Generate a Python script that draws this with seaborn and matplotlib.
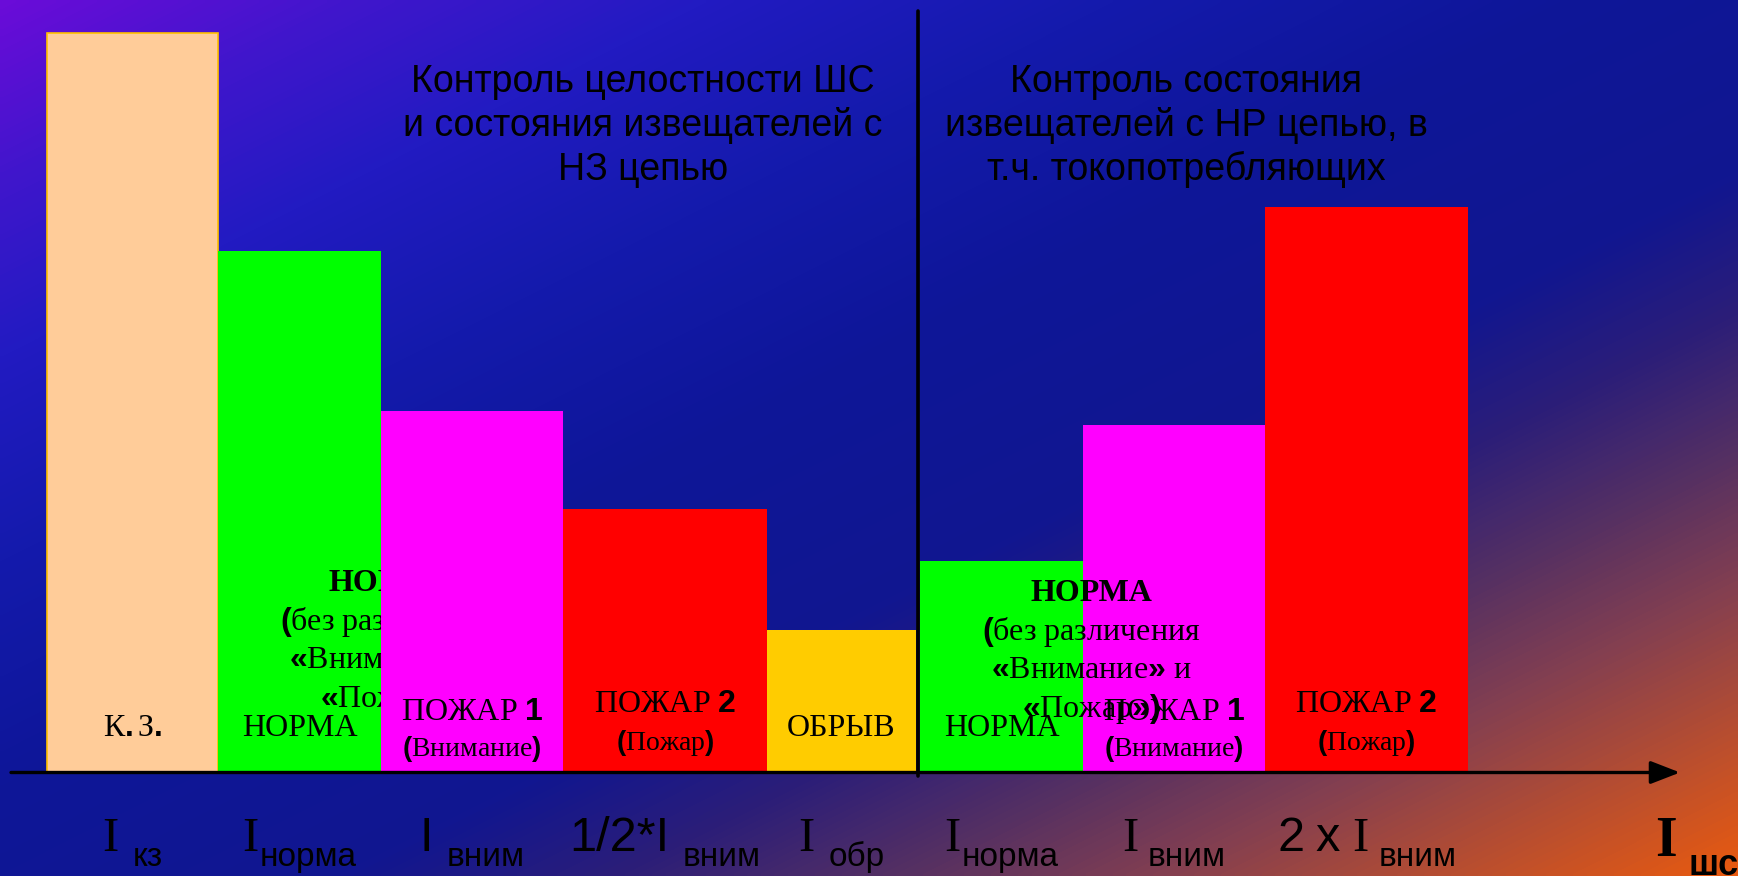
import numpy as np
import matplotlib
matplotlib.use("Agg")
import matplotlib.pyplot as plt
import seaborn as sns
from matplotlib.colors import LinearSegmentedColormap

# ---------------- data ----------------
states = ["К.З.", "НОРМА", "ПОЖАР 1", "ПОЖАР 2", "ОБРЫВ", "НОРМА", "ПОЖАР 1", "ПОЖАР 2"]
loop_current = [74.0, 52.2, 36.2, 26.4, 14.3, 21.2, 34.8, 56.6]
bar_colors = ["#FFCC99", "#00FF00", "#FF00FF", "#FF0000", "#FFCC00",
              "#00FF00", "#FF00FF", "#FF0000"]

state_labels = [r"К$\mathbf{.}$З$\mathbf{.}$", "НОРМА", r"ПОЖАР $\mathbf{1}$",
                r"ПОЖАР $\mathbf{2}$", "ОБРЫВ", "НОРМА", r"ПОЖАР $\mathbf{1}$",
                r"ПОЖАР $\mathbf{2}$"]
state_notes = ["", "", r"$\mathbf{(}$Внимание$\mathbf{)}$", r"$\mathbf{(}$Пожар$\mathbf{)}$",
               "", "", r"$\mathbf{(}$Внимание$\mathbf{)}$", r"$\mathbf{(}$Пожар$\mathbf{)}$"]

current_names = ["I", "I", "I", "1/2*I", "I", "I", "I", r"$\mathsf{2\ x}$ I"]
current_subs = ["кз", "норма", "вним", "вним", "обр", "норма", "вним", "вним"]
current_fonts = ["Liberation Serif", "Liberation Serif", "Liberation Sans", "Liberation Sans",
                 "Liberation Serif", "Liberation Serif", "Liberation Serif", "Liberation Serif"]

left_title = ["Контроль целостности ШС", "и состояния извещателей с", "НЗ цепью"]
right_title = ["Контроль состояния", "извещателей с НР цепью, в", "т.ч. токопотребляющих"]
norm_note = ["НОРМА", r"$\mathbf{(}$без различения", r"$\mathbf{«}$Внимание$\mathbf{»}$ и",
             r"$\mathbf{«}$Пожар$\mathbf{»)}$"]

# ---------------- layout ----------------
bar_widths = [171, 163, 182, 204, 149, 163, 182, 203]
first_left = 36
group_gap = 4
W, H, DPI = 1738, 876, 100

sns.set_theme(style="white")
plt.rcParams["font.family"] = ["Liberation Serif", "DejaVu Serif"]
plt.rcParams["text.color"] = "black"
plt.rcParams["mathtext.fontset"] = "custom"
plt.rcParams["mathtext.rm"] = "Liberation Serif"
plt.rcParams["mathtext.it"] = "Liberation Serif:italic"
plt.rcParams["mathtext.sf"] = "Liberation Sans"
plt.rcParams["mathtext.bf"] = "Liberation Sans:bold"

fig = plt.figure(figsize=(W / DPI, H / DPI), dpi=DPI)

# diagonal gradient backdrop
bg = fig.add_axes([0, 0, 1, 1])
gx, gy = np.meshgrid(np.linspace(0, 1, 400), np.linspace(0, 1, 200))
grad = (gx + gy) / 2
stops = [(0.0, "#6a0cd8"), (0.1, "#4016cc"), (0.2, "#221bc2"), (0.32, "#141aac"),
         (0.45, "#0e1698"), (0.6, "#111690"), (0.68, "#2c1e78"), (0.76, "#553063"),
         (0.84, "#86404f"), (0.92, "#b84e30"), (1.0, "#e85a10")]
cmap = LinearSegmentedColormap.from_list("slide", stops)
bg.imshow(grad, cmap=cmap, aspect="auto", extent=[0, 1, 0, 1], origin="upper",
          interpolation="bilinear")
bg.set_axis_off()

# main axes: baseline of the current axis at the bottom edge
ax = fig.add_axes([11 / W, 103.5 / H, 1669 / W, 772.5 / H])
ax.patch.set_alpha(0)
ax.set_xlim(0, 1669)
ax.set_ylim(0, 77.25)
ax.set_axis_off()

lefts = []
pos = first_left
for i, w in enumerate(bar_widths):
    if i == 5:
        pos += group_gap
    lefts.append(pos)
    pos += w
lefts = np.array(lefts)
widths = np.array(bar_widths)
centers = lefts + widths / 2

bars = ax.bar(lefts, loop_current, width=widths, align="edge", color=bar_colors,
              linewidth=0, zorder=2)
bars[0].set_edgecolor("#FFC000")
bars[0].set_linewidth(1.2)
bars[2].set_zorder(3)

# state captions inside bars
for i, (lab, note) in enumerate(zip(state_labels, state_notes)):
    if note:
        y_lab, y_note = (5.95, 2.35) if "1" in lab else (6.75, 2.95)
        ax.text(centers[i], y_lab, lab, ha="center", va="center", fontsize=23,
                color="black", zorder=6)
        ax.text(centers[i], y_note, note, ha="center", va="center", fontsize=20,
                color="black", zorder=6)
    else:
        ax.text(centers[i], 4.45, lab, ha="center", va="center", fontsize=23,
                color="black", zorder=6)

# "НОРМА (без различения ...)" notes next to each normal-state bar
for idx, y0, z in [(1, 18.9, 2.5), (5, 17.9, 6)]:
    xc = lefts[idx] + widths[idx] + 8
    for k, line in enumerate(norm_note):
        ax.text(xc, y0 - 3.85 * k, line, ha="center", va="center", fontsize=23,
                fontweight="bold" if k == 0 else "normal", color="black", zorder=z)

# group titles
for lines, xc in [(left_title, 632), (right_title, 1175)]:
    for k, line in enumerate(lines):
        ax.text(xc, 69.1 - 4.4 * k, line, ha="center", va="center", fontsize=27,
                family="Liberation Sans", color="black", zorder=6)

# separator between the two loop types
sep_x = (lefts[4] + widths[4] + lefts[5]) / 2
ax.axvline(sep_x, ymin=-0.005, ymax=0.986, color="black", lw=2.6, clip_on=False, zorder=7)

# current axis with arrow
ax.annotate("", xy=(1, 0), xytext=(0, 0), xycoords="axes fraction",
            arrowprops=dict(arrowstyle="-|>,head_length=0.9,head_width=0.35", lw=2.4,
                            color="black", mutation_scale=20, shrinkA=0, shrinkB=0),
            zorder=8)

# current level labels under the axis
sub_gap = [14, 1, 14, 14, 14, 1, 10, 10]
name_txt, sub_txt = [], []
for c, nm, sb, fam in zip(centers, current_names, current_subs, current_fonts):
    t1 = ax.annotate(nm, xy=(c, 0), xytext=(0, -56.5), textcoords="offset points",
                     ha="right", va="baseline", fontsize=35, family=fam, color="black")
    t2 = ax.annotate(sb, xy=(c, 0), xytext=(0, -67.3), textcoords="offset points",
                     ha="left", va="baseline", fontsize=24, family="Liberation Sans",
                     color="black")
    name_txt.append(t1)
    sub_txt.append(t2)

fig.canvas.draw()
rend = fig.canvas.get_renderer()
k_pt = 72 / DPI
for t1, t2, g in zip(name_txt, sub_txt, sub_gap):
    w1 = t1.get_window_extent(rend).width
    w2 = t2.get_window_extent(rend).width
    x0 = -(w1 + g + w2) / 2
    t1.xyann = ((x0 + w1) * k_pt, -56.5)
    t2.xyann = ((x0 + w1 + g) * k_pt, -67.3)

# axis name at the arrow end
ax.annotate("I", xy=(1, 0), xycoords="axes fraction", xytext=(-10, -60),
            textcoords="offset points", ha="center", va="baseline", fontsize=40,
            fontweight="bold", color="black", annotation_clip=False)
ax.annotate("шс", xy=(1, 0), xycoords="axes fraction", xytext=(6, -73.5),
            textcoords="offset points", ha="left", va="baseline", fontsize=26,
            fontweight="bold", family="Liberation Sans", color="black",
            annotation_clip=False)

fig.savefig("out.png", dpi=DPI)
